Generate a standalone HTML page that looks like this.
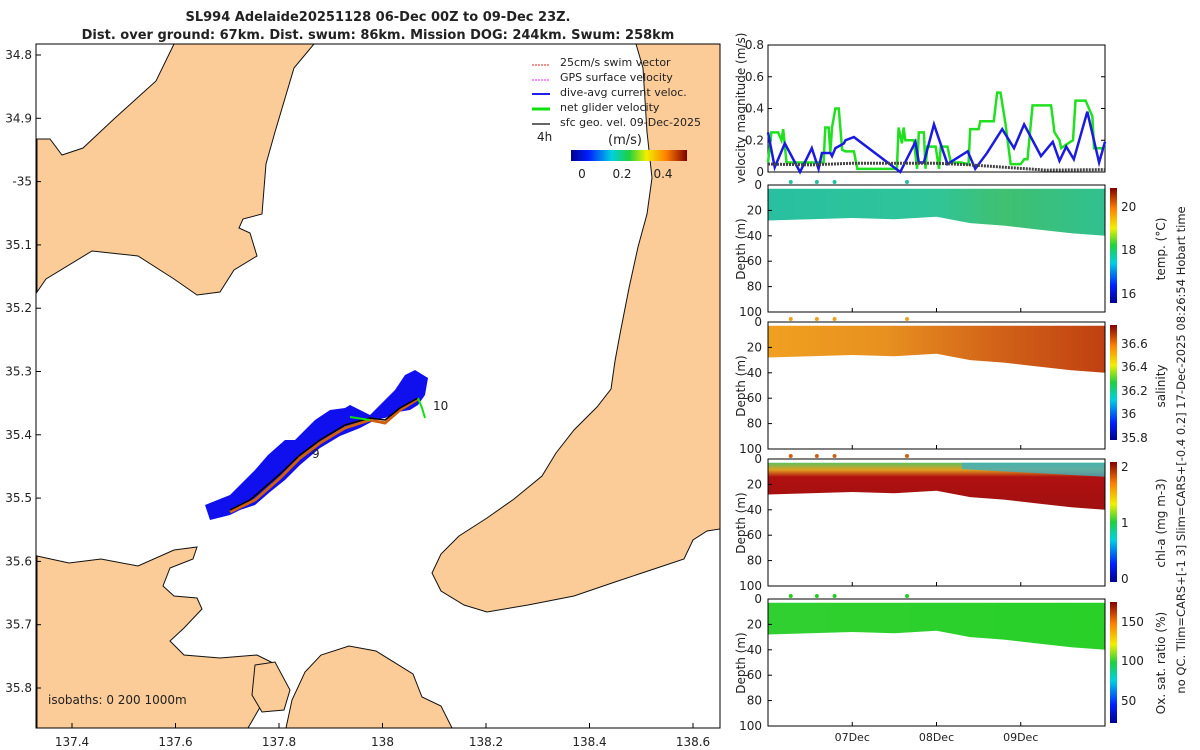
<!DOCTYPE html>
<html><head><meta charset="utf-8"><style>
body{margin:0;background:#fff;font-family:"Liberation Sans","DejaVu Sans",sans-serif}
svg{display:block}
text{font-family:"DejaVu Sans","Liberation Sans",sans-serif;fill:#222}
</style></head><body>
<svg id="fig" width="1200" height="750" viewBox="0 0 1200 750">
<defs>
<linearGradient id="jet" x1="0" y1="1" x2="0" y2="0">
<stop offset="0" stop-color="#00008f"/><stop offset="0.15" stop-color="#0020ff"/><stop offset="0.35" stop-color="#00d0e0"/><stop offset="0.5" stop-color="#20d040"/><stop offset="0.65" stop-color="#f0f000"/><stop offset="0.82" stop-color="#ff8000"/><stop offset="1" stop-color="#800000"/></linearGradient>
<linearGradient id="jeth" x1="0" y1="0" x2="1" y2="0">
<stop offset="0" stop-color="#00008f"/><stop offset="0.15" stop-color="#0020ff"/><stop offset="0.35" stop-color="#00d0e0"/><stop offset="0.5" stop-color="#20d040"/><stop offset="0.65" stop-color="#f0f000"/><stop offset="0.82" stop-color="#ff8000"/><stop offset="1" stop-color="#800000"/></linearGradient>
<linearGradient id="gT" x1="0" y1="0" x2="1" y2="0"><stop offset="0" stop-color="#28c0a0"/><stop offset="0.5" stop-color="#30c498"/><stop offset="0.7" stop-color="#40c070"/><stop offset="1" stop-color="#30c090"/></linearGradient>
<linearGradient id="gS" x1="0" y1="0" x2="1" y2="0"><stop offset="0" stop-color="#f0a020"/><stop offset="0.35" stop-color="#e89020"/><stop offset="0.7" stop-color="#d06018"/><stop offset="1" stop-color="#c04010"/></linearGradient>
<linearGradient id="gC" x1="0" y1="0" x2="0" y2="1"><stop offset="0" stop-color="#60c060"/><stop offset="0.15" stop-color="#e0a020"/><stop offset="0.3" stop-color="#b01010"/><stop offset="1" stop-color="#a01010"/></linearGradient>
<linearGradient id="gO" x1="0" y1="0" x2="1" y2="0"><stop offset="0" stop-color="#30d030"/><stop offset="1" stop-color="#28d028"/></linearGradient>
</defs>
<text x="378" y="21" text-anchor="middle" font-size="13" font-weight="bold">SL994 Adelaide20251128 06-Dec 00Z to 09-Dec 23Z.</text>
<text x="378" y="39" text-anchor="middle" font-size="13" font-weight="bold">Dist. over ground: 67km. Dist. swum: 86km. Mission DOG: 244km. Swum: 258km</text>

<g>
<rect x="36" y="44" width="684" height="684" fill="#fff"/>
<g fill="#fbcb98" stroke="#111" stroke-width="1">
<polygon points="174,44 314,44 294,68 275,132 266,164 262,214 243,219 239,228 250,233 257,256 234,270 220,292 197,295 174,279 138,256 92,251 46,279 37,292 37,139 50,139 62,155 83,148 115,118 156,81"/>
<polygon points="636,44 643,68 647,132 652,178 647,214 638,247 629,288 620,334 615,361 611,389 597,407 574,430 556,453 542,476 514,499 487,518 459,536 441,554 432,573 441,591 464,605 487,612 528,605 574,596 615,582 657,568 684,559 693,540 707,531 720,529 720,44"/>
<polygon points="37,556 69,563 101,559 138,566 174,550 197,547 193,559 170,568 163,586 174,596 197,598 202,609 184,628 170,641 184,655 220,658 257,655 275,664 280,683 266,697 248,728 37,728"/>
<polygon points="286,728 292,700 305,672 321,655 349,646 376,651 413,674 422,697 441,706 452,728"/>
<polygon points="255,665 275,662 290,690 284,710 262,712 252,695"/>
</g>
<g id="track">
<polygon fill="#1010ee" points="205,505 230,495 240,485 255,470 268,455 285,440 295,440 315,420 330,410 345,408 350,405 370,415 380,405 395,390 405,375 415,370 428,378 425,395 418,405 410,410 398,412 385,418 375,420 360,428 340,436 320,448 300,465 285,480 270,492 255,505 240,510 230,515 210,520"/>
<polyline fill="none" stroke="#d06010" stroke-width="3" points="230,512 255,500 280,478 300,458 320,443 345,428 370,420 385,423 400,410 418,399"/>
<polyline fill="none" stroke="#000" stroke-width="1.5" points="230,510 250,500 280,474 300,455 320,440 345,425 370,418 385,420 400,408 418,398"/>
<polyline fill="none" stroke="#10e010" stroke-width="2" points="418,398 422,408 425,418"/>
<polyline fill="none" stroke="#10e010" stroke-width="2" points="350,417 370,420"/>
<text x="433" y="410" font-size="12">10</text>
<text x="312" y="458" font-size="12">9</text>
</g>
<g font-size="11">
<line x1="532" y1="65" x2="550" y2="65" stroke="#e02020" stroke-dasharray="2 1"/><text x="560" y="66">25cm/s swim vector</text>
<line x1="532" y1="80" x2="550" y2="80" stroke="#ff20ff" stroke-dasharray="2 1"/><text x="560" y="81">GPS surface velocity</text>
<line x1="532" y1="94" x2="550" y2="94" stroke="#2020ee" stroke-width="2"/><text x="560" y="96">dive-avg current veloc.</text>
<line x1="532" y1="109" x2="550" y2="109" stroke="#10e010" stroke-width="3"/><text x="560" y="111">net glider velocity</text>
<line x1="532" y1="124" x2="550" y2="124" stroke="#333" stroke-width="1.5"/><text x="560" y="126">sfc geo. vel. 09-Dec-2025</text>
<text x="537" y="141" font-size="12">4h</text>
<text x="608" y="144" font-size="13">(m/s)</text>
<rect x="571" y="150" width="116" height="11" fill="url(#jeth)"/>
<text x="582" y="178" font-size="12" text-anchor="middle">0</text>
<text x="622" y="178" font-size="12" text-anchor="middle">0.2</text>
<text x="663" y="178" font-size="12" text-anchor="middle">0.4</text>
</g>
<text x="48" y="704" font-size="12">isobaths: 0   200  1000m</text>
<rect x="36" y="44" width="684" height="684" fill="none" stroke="#000"/>
<g id="mapticks" font-size="12"></g>
</g>

<g id="vel"></g>
<g id="sections"></g>
<text transform="translate(1185,450) rotate(-90)" text-anchor="middle" font-size="11.5">no QC. Tlim=CARS+[-1 3] Slim=CARS+[-0.4 0.2] 17-Dec-2025 08:26:54 Hobart time</text>
</svg>
<script>
const NS="http://www.w3.org/2000/svg";
function mk(tag,attrs,parent,txt){const e=document.createElementNS(NS,tag);for(const k in attrs)e.setAttribute(k,attrs[k]);if(txt!==undefined)e.textContent=txt;parent.appendChild(e);return e;}

// map ticks
const lonTicks=[137.4,137.6,137.8,138,138.2,138.4,138.6];
const latTicks=[34.8,34.9,-35,35.1,35.2,35.3,35.4,35.5,35.6,35.7,35.8];
const lonX=v=>72+(v-137.4)/0.2*103.5;
const latY=v=>55+(Math.abs(v)-34.8)/0.1*63.3;
const mt=document.getElementById('mapticks');
lonTicks.forEach(v=>{mk('line',{x1:lonX(v),x2:lonX(v),y1:728,y2:723,stroke:'#000'},mt);
const t=mk('text',{x:lonX(v),y:746,'text-anchor':'middle'},mt,String(v));

});
latTicks.forEach(v=>{mk('line',{x1:36,x2:41,y1:latY(v),y2:latY(v),stroke:'#000'},mt);
const t=mk('text',{x:32,y:latY(v)+4,'text-anchor':'end'},mt,String(v));

});

// velocity data (days since 06-Dec 00Z, m/s)
const greenT=[0.00,0.04,0.12,0.16,0.18,0.22,0.62,0.66,0.68,0.72,0.74,0.76,0.80,0.84,0.88,0.92,1.02,1.06,1.53,1.55,1.59,1.61,1.63,1.73,1.77,1.79,1.85,1.87,1.89,1.99,2.03,2.05,2.13,2.17,2.29,2.38,2.40,2.50,2.52,2.68,2.72,2.76,2.82,2.88,3.00,3.04,3.08,3.14,3.36,3.40,3.46,3.48,3.56,3.62,3.65,3.77,3.85,3.87,4.00];
const greenV=[0.06,0.25,0.25,0.2,0.27,0.06,0.06,0.06,0.28,0.28,0.12,0.28,0.4,0.4,0.14,0.13,0.13,0.02,0.02,0.28,0.18,0.28,0.2,0.2,0.02,0.25,0.25,0.02,0.16,0.16,0.02,0.16,0.16,0.06,0.06,0.05,0.27,0.27,0.32,0.32,0.5,0.5,0.3,0.05,0.05,0.08,0.08,0.42,0.42,0.25,0.2,0.15,0.18,0.2,0.45,0.45,0.35,0.15,0.15];
const blueT=[0.00,0.08,0.20,0.38,0.52,0.60,0.64,0.74,0.76,0.80,0.90,0.92,1.02,1.57,1.75,1.79,1.85,1.97,2.13,2.37,2.46,2.60,2.78,2.92,3.04,3.24,3.38,3.46,3.54,3.63,3.79,3.93,4.00];
const blueV=[0.25,0.03,0.18,0.0,0.15,0.02,0.12,0.12,0.1,0.15,0.18,0.2,0.22,0.0,0.19,0.06,0.06,0.3,0.05,0.13,0.02,0.12,0.27,0.15,0.3,0.1,0.19,0.07,0.16,0.08,0.38,0.06,0.19];
const geoT=[0,0.5,1.0,2.0,2.4,2.8,3.3,4.0];
const geoV=[0.05,0.045,0.055,0.055,0.045,0.03,0.012,0.015];
const velTicks=[0,0.2,0.4,0.6,0.8];
const dayTicks=[1,2,3];
const dayLabels=['07Dec','08Dec','09Dec'];
const surfT=[0.27,0.58,0.79,1.65];
const bottomT=[0,0.5,1.0,1.5,2.0,2.4,2.8,3.2,3.6,4.0];
const bottomD=[28,27,26,27,25,30,32,35,38,40];

const X0=768,X1=1105;
const tx=d=>X0+d/4*(X1-X0);
const V=document.getElementById('vel');
const vy=v=>172-v/0.8*127;
mk('rect',{x:X0,y:45,width:X1-X0,height:127,fill:'#fff',stroke:'#000'},V);
velTicks.forEach(v=>{mk('line',{x1:X0,x2:X0+4,y1:vy(v),y2:vy(v),stroke:'#000'},V);mk('line',{x1:X1,x2:X1-4,y1:vy(v),y2:vy(v),stroke:'#000'},V);
const t=mk('text',{x:X0-4,y:vy(v)+4,'text-anchor':'end','font-size':12},V,String(v));

});
function line(T,Vv,col,w,name,dash){const p=mk('polyline',{fill:'none',stroke:col,'stroke-width':w,points:T.map((d,i)=>tx(d)+','+vy(Vv[i])).join(' ')},V);if(dash)p.setAttribute('stroke-dasharray',dash);

}
line(greenT,greenV,'#20e020',2.5,'net-glider-velocity-line');
line(blueT,blueV,'#1a1ae0',2.5,'dive-avg-current-line');
line(geoT,geoV,'#444',3,'sfc-geo-velocity-line','2 1');
const vl=mk('text',{transform:'translate(745,108) rotate(-90)','text-anchor':'middle','font-size':12},V,'velocity magnitude (m/s)');



// sections
const panels=[
{top:185,fill:'url(#gT)',label:'temp. (°C)',ticks:[20,18,16],tickY:[207,250,294],dot:'#20c0a0',name:'temperature'},
{top:322,fill:'url(#gS)',label:'salinity',ticks:[36.6,36.4,36.2,36,35.8],tickY:[344,367,391,414,438],dot:'#f0a020',name:'salinity'},
{top:459,fill:'url(#gC)',label:'chl-a (mg m-3)',ticks:[2,1,0],tickY:[467,523,579],dot:'#d06010',name:'chlorophyll'},
{top:599,fill:'url(#gO)',label:'Ox. sat. ratio (%)',ticks:[150,100,50],tickY:[622,661,701],dot:'#20d020',name:'oxygen'}];
const depthTicks=[0,20,40,60,80,100];
const S=document.getElementById('sections');
panels.forEach((p,pi)=>{
 const g=mk('g',{},S);
 
 
 const dy=d=>p.top+d/100*127;
 mk('rect',{x:X0,y:p.top,width:X1-X0,height:127,fill:'#fff'},g);
 let pts=X0+','+dy(3)+' '+X1+','+dy(3)+' ';
 pts+=bottomT.slice().reverse().map((d,i)=>tx(d)+','+dy(bottomD[bottomD.length-1-i])).join(' ');
 mk('polygon',{points:pts,fill:p.fill},g);
 if(pi===2){mk('polygon',{points:tx(2.3)+','+dy(3)+' '+tx(4)+','+dy(3)+' '+tx(4)+','+dy(14)+' '+tx(2.3)+','+dy(8),fill:'#40b0c0',opacity:0.8},g);}
 mk('rect',{x:X0,y:p.top,width:X1-X0,height:127,fill:'none',stroke:'#000'},g);
 depthTicks.forEach(d=>{mk('line',{x1:X0,x2:X0+4,y1:dy(d),y2:dy(d),stroke:'#000'},g);
  const t=mk('text',{x:X0-6,y:dy(d)+4,'text-anchor':'end','font-size':12},g,String(d));
  
  });
 dayTicks.forEach(d=>{mk('line',{x1:tx(d),x2:tx(d),y1:p.top+127,y2:p.top+123,stroke:'#000'},g);});
 surfT.forEach(d=>{const c=mk('circle',{cx:tx(d),cy:p.top-3,r:2,fill:p.dot},g);
  
  });
 const yl=mk('text',{transform:'translate(745,'+(p.top+64)+') rotate(-90)','text-anchor':'middle','font-size':12},g,'Depth (m)');
 
 
 const cb=mk('rect',{x:1110,y:p.top+3,width:7,height:(pi===2?120:(pi===3?121:115)),fill:'url(#jet)'},g);
 
 
 p.ticks.forEach((v,i)=>{const t=mk('text',{x:1121,y:p.tickY[i]+4,'font-size':12},g,String(v));
  
  });
 const cl=mk('text',{transform:'translate(1165,'+(p.top+64)+') rotate(-90)','text-anchor':'middle','font-size':12},g,p.label);
 
 
});
dayTicks.forEach((d,i)=>{const t=mk('text',{x:tx(d),y:741,'text-anchor':'middle','font-size':11},S,dayLabels[i]);
 
 });
</script>
</body></html>
